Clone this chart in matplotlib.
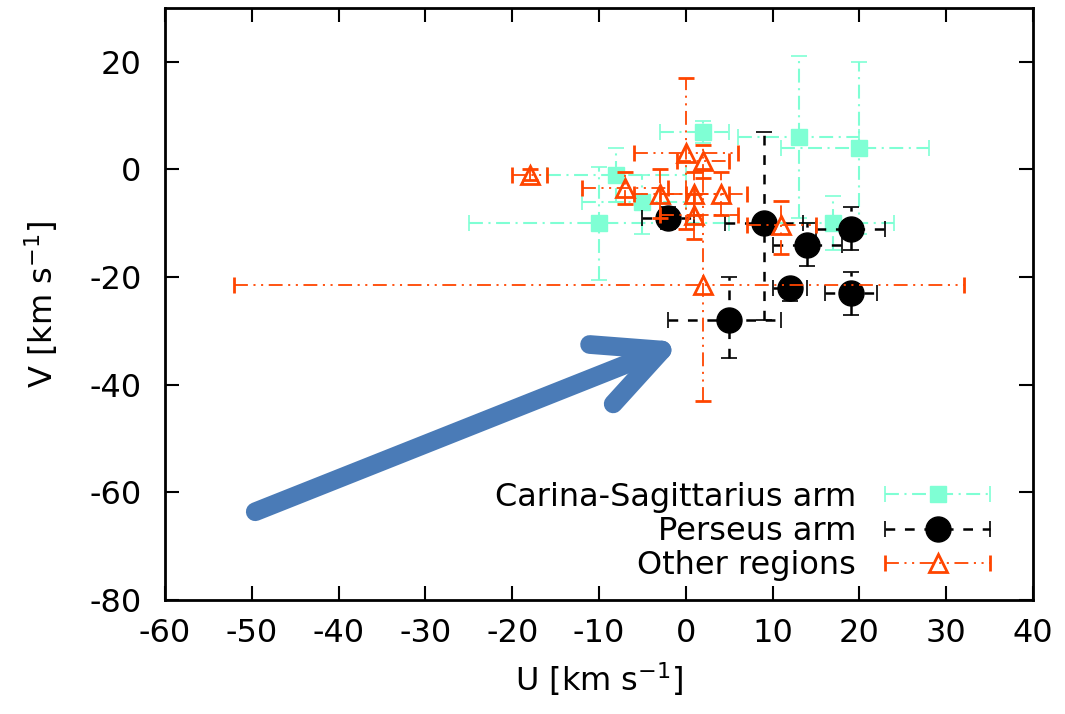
import numpy as np
import matplotlib
matplotlib.use('Agg')
import matplotlib.pyplot as plt
from matplotlib.container import ErrorbarContainer
from matplotlib.legend_handler import HandlerErrorbar

plt.rcParams['font.family'] = ['DejaVu Sans']
plt.rcParams['mathtext.fontset'] = 'dejavusans'
plt.rcParams['axes.unicode_minus'] = False
plt.rcParams['lines.scale_dashes'] = False

# ---------------- data ----------------
# Carina-Sagittarius arm
cs_u = [2, 13, 20, -8, -5, -10, 17]
cs_v = [7, 6, 4, -1, -6, -10, -10]
cs_ulo = [5, 7, 9, 8, 7, 15, 7]
cs_uhi = [3, 7, 8, 8, 5, 15, 7]
cs_vlo = [2, 15, 16, 5, 6, 10.5, 5]
cs_vhi = [2, 15, 16, 5, 5, 10.5, 5]

# Perseus arm
pe_u = [-2, 9, 14, 19, 12, 19, 5]
pe_v = [-9, -10, -14, -11, -22, -23, -28]
pe_ulo = [3, 4.5, 4, 4, 2, 3, 7]
pe_uhi = [3, 4.5, 4, 4, 2, 3, 6]
pe_vlo = [2, 18, 4, 4, 2.5, 4, 7]
pe_vhi = [2, 17, 4, 4, 1.5, 4, 8]

# Other regions
ot_u = [-18, 0, 2, -7, -3, 1, 4, 1, 11, 2]
ot_v = [-1, 3, 1.5, -3.5, -4.5, -4.5, -4.5, -8.5, -10.3, -21.5]
ot_ulo = [2, 6, 3, 5, 3, 4, 3, 4, 4, 54]
ot_uhi = [2, 6, 3, 5, 3, 4, 3, 5, 4, 30]
ot_vlo = [1, 14, 3, 3, 4.5, 4, 4, 4.5, 5.5, 21.5]
ot_vhi = [1, 14, 3, 3, 4.5, 4, 4, 4, 4.5, 21.5]

labels = ["Carina-Sagittarius arm", "Perseus arm", "Other regions"]
xticks = [-60, -50, -40, -30, -20, -10, 0, 10, 20, 30, 40]
yticks = [-80, -60, -40, -20, 0, 20]

arrow_tail = (-49.6, -63.6)
arrow_tip = (-0.45, -32.1)

# ---------------- figure ----------------
fig = plt.figure(figsize=(10.65, 7.14), dpi=100)
ax = fig.add_axes([165 / 1065, 1 - 600 / 714, 868 / 1065, 592 / 714])

FS = 23
cyan = '#7fffd4'
orange = '#ff4500'


def series(u, v, ulo, uhi, vlo, vhi, z, ls, lw, **mk):
    eb = ax.errorbar(u, v, xerr=[ulo, uhi], yerr=[vlo, vhi], linestyle='none',
                     elinewidth=lw, capsize=6, capthick=1.2, zorder=z, **mk)
    for lc in eb[2]:
        lc.set_linestyle(ls)
    return eb


eb1 = series(cs_u, cs_v, cs_ulo, cs_uhi, cs_vlo, cs_vhi, 2, (0, (10, 4, 1.5, 4)), 1.5,
             marker='s', ms=12, mfc=cyan, mec=cyan, ecolor=cyan, color=cyan)
eb2 = series(pe_u, pe_v, pe_ulo, pe_uhi, pe_vlo, pe_vhi, 3, (0, (7, 7)), 1.8,
             marker='o', ms=18, mfc='black', mec='black', ecolor='black', color='black')
eb3 = series(ot_u, ot_v, ot_ulo, ot_uhi, ot_vlo, ot_vhi, 4, (0, (10, 4, 1.5, 4, 1.5, 4)), 1.3,
             marker='^', ms=12.5, mfc='none', mec=orange, mew=2, ecolor=orange, color=orange)

# arrow
ax.annotate('', xy=arrow_tip, xytext=arrow_tail,
            arrowprops=dict(arrowstyle='->, head_length=0.47, head_width=0.23',
                            mutation_scale=100, lw=13.5, color='#4a7bb7',
                            capstyle='round', joinstyle='round',
                            shrinkA=0, shrinkB=0), zorder=6)

# axes
ax.set_xlim(-60, 40)
ax.set_ylim(-80, 30)
ax.set_xticks(xticks)
ax.set_yticks(yticks)
ax.tick_params(direction='in', length=10, width=1.5, top=True, right=True,
               labelsize=FS)
ax.tick_params(axis='y', pad=17)
ax.tick_params(axis='x', pad=13)
for s in ax.spines.values():
    s.set_linewidth(2)

ax.set_xlabel(r'U [km s$^{\mathregular{-1}}$]', fontsize=FS, labelpad=8)
ax.set_ylabel(r'V [km s$^{\mathregular{-1}}$]', fontsize=FS, labelpad=21)

# legend: horizontal error bar samples like gnuplot
handles = []
for eb, lab in zip([eb1, eb2, eb3], labels):
    h = ErrorbarContainer((eb[0], eb[1], (eb[2][0],)), has_xerr=True, has_yerr=False, label=lab)
    handles.append(h)
leg = ax.legend(handles=handles, labels=labels, loc='lower right',
                bbox_to_anchor=((992 - 165) / 868, 19 / 592),
                frameon=False, fontsize=FS, markerfirst=False,
                handlelength=3.4, handletextpad=0.85, labelspacing=0.1,
                borderpad=0, borderaxespad=0,
                handler_map={ErrorbarContainer: HandlerErrorbar(xerr_size=1.65, numpoints=1)})

fig.savefig('out.png', dpi=100)
